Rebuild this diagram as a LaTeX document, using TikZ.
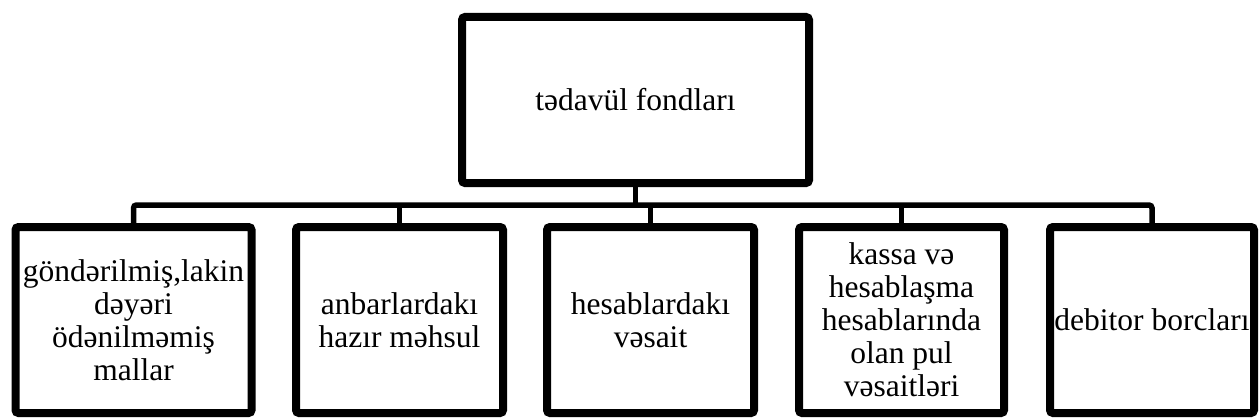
\documentclass[tikz,border=0pt]{standalone}
\usepackage{fontspec}
\setmainfont{Liberation Serif}
\begin{document}
\begin{tikzpicture}[x=1pt,y=-1pt,
  box/.style={draw=black, line width=8pt, rounded corners=3pt, fill=white,
    inner sep=0pt, align=center, minimum height=186pt,
    font=\fontsize{31.5}{33}\selectfont},
  topbox/.style={box, minimum width=347pt, minimum height=166pt},
  conn/.style={draw=black, line width=5.5pt}]
  \useasboundingbox (0,0) rectangle (1259,420);

  % head of the tree
  \node[topbox] (top) at (635.5,100) {tədavül fondları};

  % the five parts
  \node[box, minimum width=236pt] (b1) at (133.5,320)
    {göndərilmiş,lakin\\dəyəri\\ödənilməmiş\\mallar};
  \node[box, minimum width=207pt] (b2) at (399.5,320)
    {anbarlardakı\\hazır məhsul};
  \node[box, minimum width=207pt] (b3) at (650.5,320)
    {hesablardakı\\vəsait};
  \node[box, minimum width=205pt] (b4) at (901.5,320)
    {kassa və\\hesablaşma\\hesablarında\\olan pul\\vəsaitləri};
  \node[box, minimum width=204pt] (b5) at (1152,320)
    {debitor borcları};

  % bus line and drops
  \coordinate (bus) at (0,205);
  \draw[conn] (top.south) -- (top.south |- bus);
  \draw[conn, rounded corners=3pt] (b1.north) -- (b1.north |- bus)
    -- (b5.north |- bus) -- (b5.north);
  \draw[conn] (b2.north) -- (b2.north |- bus);
  \draw[conn] (b3.north) -- (b3.north |- bus);
  \draw[conn] (b4.north) -- (b4.north |- bus);
\end{tikzpicture}
\end{document}
